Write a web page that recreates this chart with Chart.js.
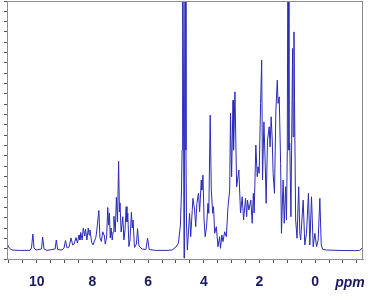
<!DOCTYPE html>
<html>
<head>
<meta charset="utf-8">
<script src="https://cdn.jsdelivr.net/npm/chart.js@4.4.1/dist/chart.umd.min.js"></script>
<style>
  html, body { margin: 0; padding: 0; background: #fff; }
  #wrap { width: 376px; height: 300px; }
</style>
</head>
<body>
<div id="wrap"><canvas id="nmr"></canvas></div>
<script>
// chemical shift (ppm) / intensity, left to right
const downfieldPpm = [
  11.07, 10.99, 10.89, 10.60, 10.24, 10.19, 10.14, 10.10, 10.03, 9.83,
  9.79, 9.74, 9.63, 9.34, 9.30, 9.25, 9.09, 9.02, 8.97, 8.91,
  8.84, 8.77, 8.71, 8.66, 8.59, 8.54, 8.48, 8.45, 8.42, 8.37,
  8.33, 8.28, 8.25, 8.20, 8.15, 8.12, 8.09, 8.03, 7.98, 7.88,
  7.85, 7.77, 7.73, 7.68, 7.63, 7.57, 7.54, 7.49, 7.45, 7.42,
  7.39, 7.36, 7.33, 7.29, 7.26, 7.23, 7.18, 7.14, 7.10, 7.06,
  7.03, 7.01, 6.97, 6.91, 6.87, 6.83, 6.79, 6.76, 6.73, 6.69,
  6.65, 6.60, 6.57, 6.54, 6.49, 6.42, 6.38, 6.33, 6.22, 6.08,
  6.02, 5.96, 5.75, 5.39, 5.14, 5.00, 4.91, 4.84, 4.80, 4.78
];
const downfieldInt = [
  0.45, 0.07, -0.13, -0.17, -0.16, 0.07, 1.42, 0.07, -0.13, -0.03,
  1.13, -0.03, -0.16, -0.03, 0.84, -0.08, -0.13, 0.07, 0.79, 0.07,
  0.16, 1.04, 0.36, 0.45, 1.08, 0.55, 1.33, 0.84, 1.57, 0.84,
  2.00, 1.23, 1.91, 0.84, 2.00, 1.33, 1.81, 0.65, 0.36, 1.08,
  1.62, 3.70, 1.04, 0.70, 1.64, 1.23, 0.45, 1.13, 3.99, 2.29,
  3.46, 1.04, 2.00, 0.84, 1.62, 3.14, 1.62, 4.98, 2.59, 8.46,
  3.55, 4.45, 1.62, 3.10, 0.84, 1.81, 4.07, 2.59, 3.43, 0.21,
  0.84, 3.52, 2.00, 2.78, 0.12, 0.45, 1.94, 0.26, -0.03, -0.08,
  1.01, -0.08, -0.16, -0.17, -0.13, 0.16, 0.55, 2.29, 5.68, 9.55
];

// water signal, goes off scale
const waterPpm = [4.76, 4.73, 4.71, 4.69, 4.67, 4.64, 4.62, 4.59];
const waterInt = [40, 14.4, -0.9, 14.4, 40, 9.55, 2.29, -0.13];

const upfieldPpm = [
  4.51, 4.47, 4.39, 4.33, 4.29, 4.25, 4.19, 4.15, 4.09, 4.07,
  4.03, 3.99, 3.95, 3.90, 3.85, 3.82, 3.77, 3.73, 3.68, 3.65,
  3.61, 3.55, 3.49, 3.43, 3.40, 3.35, 3.31, 3.25, 3.19, 3.13,
  3.07, 3.04, 3.00, 2.95, 2.93, 2.88, 2.82, 2.74, 2.68, 2.62,
  2.57, 2.50, 2.46, 2.43, 2.38, 2.31, 2.26, 2.22, 2.19, 2.13,
  2.08, 2.05, 2.01, 1.96, 1.92, 1.89, 1.84, 1.79, 1.76, 1.71,
  1.65, 1.62, 1.58, 1.54, 1.51, 1.46, 1.41, 1.36, 1.33, 1.29,
  1.24, 1.21, 1.15, 1.11, 1.06, 1.03, 1.00, 0.97, 0.94, 0.91,
  0.87, 0.81, 0.79, 0.76, 0.74, 0.70, 0.65, 0.59, 0.55, 0.52,
  0.43, 0.37, 0.31, 0.24, 0.19, 0.13, 0.07, 0.01, -0.05, -0.11,
  -0.17, -0.22, -0.27, -0.41, -0.89, -1.42, -1.60, -1.68, -1.72
];
const upfieldInt = [
  3.43, 1.16, 4.88, 3.75, 2.13, 4.39, 5.36, 3.58, 6.65, 5.68,
  7.13, 2.78, 1.16, 2.13, 4.39, 3.43, 12.94, 5.68, 3.43, 4.07,
  1.49, 2.13, 0.19, 1.16, 0.04, 1.33, 0.68, 1.64, 1.16, 4.07,
  5.68, 13.11, 6.97, 14.39, 9.55, 15.2, 6.00, 7.62, 3.46, 5.03,
  2.78, 4.88, 3.10, 4.71, 3.75, 4.71, 2.46, 5.36, 3.46, 10.04,
  6.97, 7.94, 7.30, 14.08, 18.27, 6.65, 12.29, 7.94, 4.39, 10.52,
  11.81, 9.87, 12.78, 10.52, 7.30, 5.36, 13.43, 16.33, 14.08, 14.71,
  8.27, 1.49, 6.65, 2.46, 6.00, 2.78, 9.55, 40, 9.55, 10.20,
  3.10, 19.40, 10.84, 21.01, 14.39, 2.78, 1.01, 6.00, 1.49, 0.84,
  4.71, 0.36, 1.49, 5.36, 0.36, 5.03, 0.19, 1.49, 0.19, 0.84,
  4.88, 0.36, -0.06, -0.13, -0.17, -0.19, -0.16, 0.02, 0.19
];

const xMajorTicks = [10, 8, 6, 4, 2, 0];
const xTickStep = 0.5;
const xRange = [-1.72, 11.07];
const yRange = [-1, 24];
const unitLabel = 'ppm';
const unitLabelAt = -1.25;

const LINE_COLOR = '#2a2ab8';
const FRAME_COLOR = '#8c8c8c';
const TICK_COLOR = '#555555';
const LABEL_COLOR = '#1a1a5e';
const FONT_FAMILY = "'Liberation Sans', Arial, sans-serif";

const toPoints = (xs, ys) => xs.map((x, i) => ({ x: x, y: ys[i] }));
const spectrum = [
  ...toPoints(downfieldPpm, downfieldInt),
  ...toPoints(waterPpm, waterInt),
  ...toPoints(upfieldPpm, upfieldInt)
];

// box round the plot + the italic unit label
const framePlugin = {
  id: 'frame',
  afterDraw(chart) {
    const { ctx, chartArea: a, scales } = chart;
    ctx.save();
    ctx.strokeStyle = FRAME_COLOR;
    ctx.lineWidth = 1;
    ctx.strokeRect(a.left + 0.5, a.top + 0.5, a.right - a.left - 1, a.bottom - a.top);
    ctx.fillStyle = LABEL_COLOR;
    ctx.font = `italic bold 14px ${FONT_FAMILY}`;
    ctx.textAlign = 'center';
    ctx.textBaseline = 'middle';
    ctx.fillText(unitLabel, scales.x.getPixelForValue(unitLabelAt), a.bottom + 24);
    ctx.restore();
  }
};

new Chart(document.getElementById('nmr'), {
  type: 'line',
  data: {
    datasets: [{
      data: spectrum,
      borderColor: LINE_COLOR,
      borderWidth: 1,
      pointRadius: 0,
      tension: 0,
      fill: false
    }]
  },
  options: {
    responsive: true,
    maintainAspectRatio: false,
    animation: false,
    layout: { padding: { top: 1, right: 13, left: 0, bottom: 0 } },
    plugins: { legend: { display: false }, tooltip: { enabled: false } },
    scales: {
      x: {
        type: 'linear',
        reverse: true,
        min: xRange[0],
        max: xRange[1],
        afterBuildTicks: scale => {
          const ticks = [];
          for (let v = 11; v >= -1.5; v -= xTickStep) ticks.push({ value: v });
          scale.ticks = ticks;
        },
        afterFit: scale => {
          scale.height = 41;
          // tick padding would otherwise push the plot edges in
          scale.paddingLeft = 0;
          scale.paddingRight = 0;
        },
        ticks: {
          autoSkip: false,
          maxRotation: 0,
          padding: 11,
          color: LABEL_COLOR,
          font: { family: FONT_FAMILY, size: 14, weight: 'bold' },
          callback: v => xMajorTicks.includes(v) ? String(v) : ''
        },
        grid: { drawOnChartArea: false, tickLength: 4, tickColor: TICK_COLOR },
        border: { color: FRAME_COLOR }
      },
      y: {
        min: yRange[0],
        max: yRange[1],
        afterFit: scale => { scale.width = 7; },
        ticks: { display: false, stepSize: 1 },
        grid: { drawOnChartArea: false, tickLength: 3, tickColor: TICK_COLOR },
        border: { color: FRAME_COLOR }
      }
    }
  },
  plugins: [framePlugin]
});
</script>
</body>
</html>
